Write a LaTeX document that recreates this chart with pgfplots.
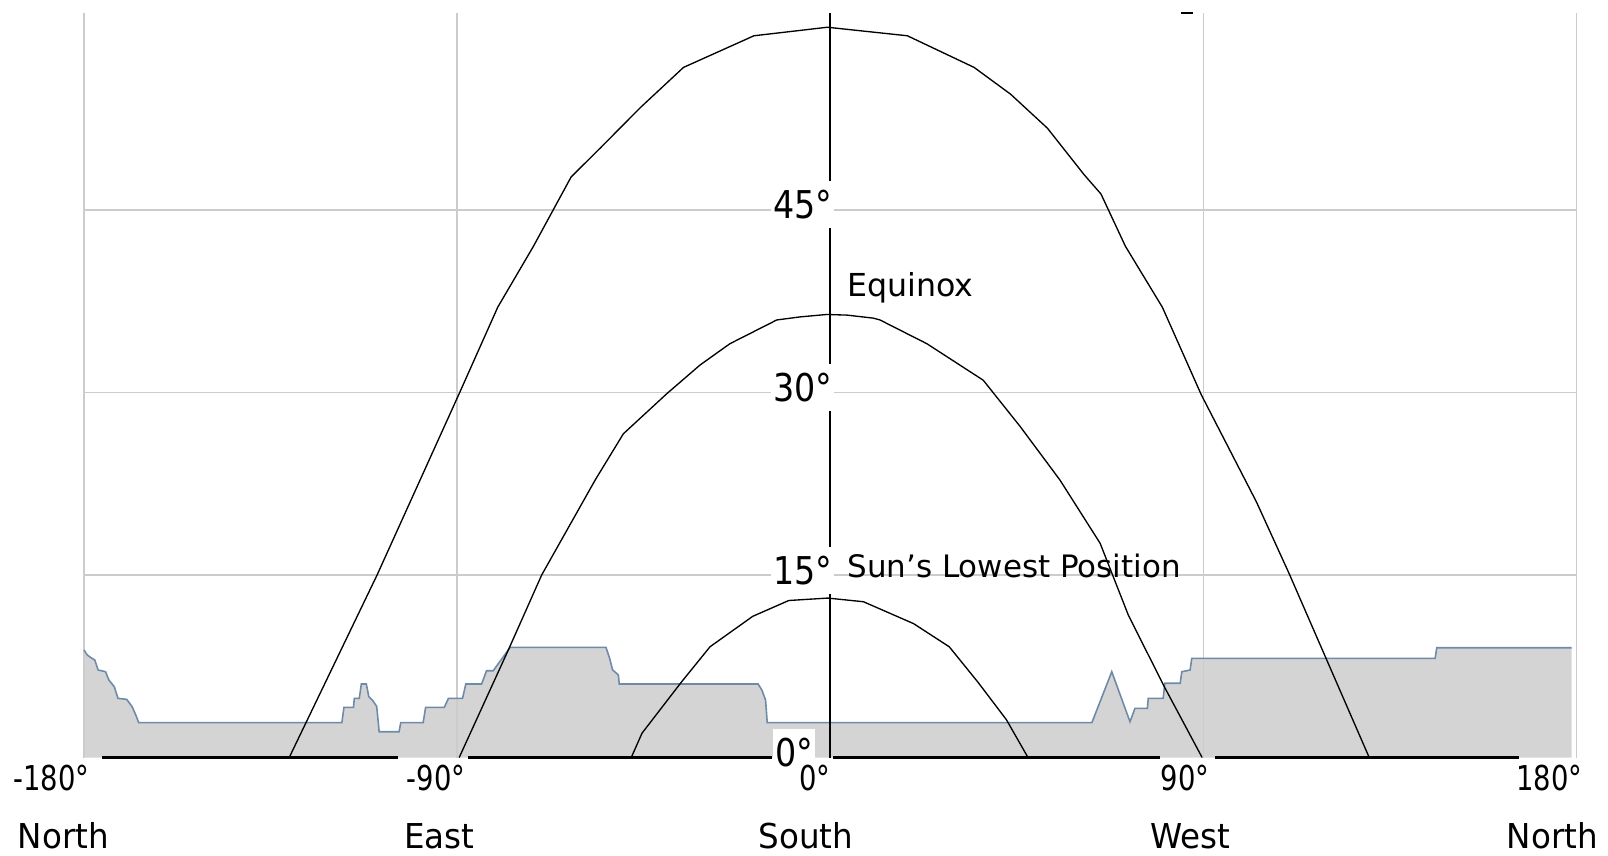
\documentclass[border=0pt]{standalone}
\usepackage{fontspec}
\setmainfont{DejaVu Sans}
\newfontfamily\ytfont[FakeStretch=0.87]{DejaVu Sans}
\newfontfamily\xtfont[FakeStretch=0.8]{DejaVu Sans}
\newfontfamily\nmfont[FakeStretch=0.95]{DejaVu Sans}
\usepackage{pgfplots}
\usepackage{pgfplotstable}
\pgfplotsset{compat=1.18}
\definecolor{gridc}{HTML}{CCCCCC}
\definecolor{terrfill}{HTML}{D4D4D4}
\definecolor{terrline}{HTML}{6E8AA8}
\tikzset{
  ylab/.style={anchor=east, fill=white, inner xsep=0.02cm, inner ysep=0.095cm,
    text height=0.28cm, text depth=0cm, font=\ytfont\fontsize{10.9}{12}\selectfont},
  xlab/.style={anchor=base east, inner sep=0pt, font=\xtfont\fontsize{9.75}{11}\selectfont},
  nlab/.style={anchor=base, inner sep=0pt, font=\nmfont\fontsize{9.75}{11}\selectfont},
}

\pgfplotstableread{
x y
-180 8.83
-179.2 8.42
-178.3 8.2
-177.4 8.01
-176.6 7.19
-174.8 7.05
-174.0 6.37
-172.7 5.82
-171.8 4.86
-169.7 4.78
-168.4 4.18
-167.5 3.49
-166.8 2.86
-117.8 2.86
-117.3 4.12
-115.0 4.12
-114.8 4.86
-113.6 4.86
-113.1 6.04
-111.9 6.04
-111.3 5.0
-110.4 4.7
-109.4 4.2
-108.8 2.12
-104.0 2.12
-103.6 2.86
-98.2 2.86
-97.6 4.12
-93.1 4.12
-92.1 4.86
-88.7 4.86
-87.9 6.04
-84.1 6.04
-82.9 7.13
-81.3 7.13
-77.2 9.05
-54.1 9.05
-53.2 8.14
-52.5 7.2
-51.1 6.78
-50.9 6.04
-17.4 6.04
-16.5 5.55
-15.6 4.72
-15.2 2.86
63.1 2.86
67.9 7.05
72.3 2.94
73.5 4.04
76.5 4.04
76.7 4.86
80.3 4.86
80.7 6.10
84.4 6.10
84.8 7.05
86.8 7.19
87.2 8.15
145.9 8.15
146.3 9.02
178.8 9.02
}\terrain

\pgfplotstableread{
x y
-130.5 0
-109.3 15.0
-89.5 29.9
-80.2 37.0
-71.6 42.0
-62.5 47.7
-55.4 50.1
-45.8 53.4
-35.4 56.7
-18.4 59.3
-0.7 60.0
18.6 59.3
34.7 56.7
43.5 54.5
52.4 51.7
61.2 47.9
65.3 46.3
71.2 42.0
80.1 37.0
89.5 29.8
102.8 21.0
110.7 15.1
130.0 0
}\summer

\pgfplotstableread{
x y
-89.5 0
-77.3 9.1
-69.6 15.0
-56.7 22.8
-49.9 26.6
-39.4 29.9
-31.4 32.25
-24.2 34.0
-12.9 35.95
-7.3 36.2
-0.9 36.4
4.0 36.35
10.4 36.1
12.0 35.95
23.3 34.0
36.9 31.0
45.8 27.2
55.4 22.8
65.1 17.6
71.9 11.7
80.6 5.8
89.7 0
}\equinox

\pgfplotstableread{
x y
-48.0 0
-45.4 2.0
-35.9 6.2
-29.0 9.1
-18.7 11.6
-10.0 12.9
-0.6 13.1
8.0 12.8
20.1 11.0
28.7 9.1
35.6 6.2
42.5 3.1
47.7 0
}\winter

\begin{document}
\begin{tikzpicture}
\begin{axis}[
  scale only axis, width=16.08cm, height=8.56cm,
  xmin=-200.26, xmax=187.6, ymin=-8.09, ymax=62.24,
  axis lines=none, xtick=\empty, ytick=\empty,
  clip=false,
]
% terrain fill
\addplot[fill=terrfill, draw=none] table {\terrain} |- (axis cs:-180,0) -- cycle;
% grid
\addplot[gridc, line width=0.45pt] coordinates {(-180,15) (180,15)};
\addplot[gridc, line width=0.45pt] coordinates {(-180,30) (180,30)};
\addplot[gridc, line width=0.45pt] coordinates {(-180,45) (180,45)};
\addplot[gridc, line width=0.45pt] coordinates {(-180,0) (-180,61.17)};
\addplot[gridc, line width=0.45pt] coordinates {(-90,0) (-90,61.17)};
\addplot[gridc, line width=0.45pt] coordinates {(90,0) (90,61.17)};
\addplot[gridc, line width=0.45pt] coordinates {(180,0) (180,61.17)};
% terrain line
\addplot[terrline, line width=0.45pt] table {\terrain};
% sun paths
\addplot[black, line width=0.38pt] table {\summer};
\addplot[black, line width=0.38pt] table {\equinox};
\addplot[black, line width=0.38pt] table {\winter};
% horizon line segments
\addplot[black, line width=0.6pt] coordinates {(-175.6,0) (-104.3,0)};
\addplot[black, line width=0.6pt] coordinates {(-87.4,0) (-14.05,0)};
\addplot[black, line width=0.6pt] coordinates {(0.66,0) (79.5,0)};
\addplot[black, line width=0.6pt] coordinates {(92.8,0) (166.2,0)};
% centre line
\addplot[black, line width=0.5pt] coordinates {(0,0) (0,61.17)};
% small dash at top
\addplot[black, line width=0.6pt] coordinates {(84.6,61.17) (87.5,61.17)};
% y labels
\node[ylab] at (axis cs:1.15,45.44) {45°};
\node[ylab] at (axis cs:1.15,30.44) {30°};
\node[ylab] at (axis cs:1.15,15.37) {15°};
\node[ylab] at (axis cs:-3.5,0.41) {0°};
% curve labels
\node[anchor=base west, inner sep=0pt, font=\fontsize{9}{11}\selectfont] at (axis cs:4.0,37.86) {Equinox};
\node[anchor=base west, inner sep=0pt, font=\fontsize{8.8}{11}\selectfont] at (axis cs:4.0,14.75) {Sun's Lowest Position};
% x tick labels
\node[xlab] at (axis cs:-178.55,-2.75) {-180°};
\node[xlab] at (axis cs:-87.86,-2.75) {-90°};
\node[xlab] at (axis cs:0.18,-2.75) {0°};
\node[xlab] at (axis cs:91.6,-2.75) {90°};
\node[xlab] at (axis cs:181.57,-2.75) {180°};
% direction names
\node[nlab] at (axis cs:-184.95,-7.44) {North};
\node[nlab] at (axis cs:-94.25,-7.44) {East};
\node[nlab] at (axis cs:-5.85,-7.44) {South};
\node[nlab] at (axis cs:86.9,-7.44) {West};
\node[nlab] at (axis cs:174.2,-7.44) {North};
\end{axis}
\pgfresetboundingbox
\path[use as bounding box] (current axis.south west) rectangle (current axis.north east);
\end{tikzpicture}
\end{document}
